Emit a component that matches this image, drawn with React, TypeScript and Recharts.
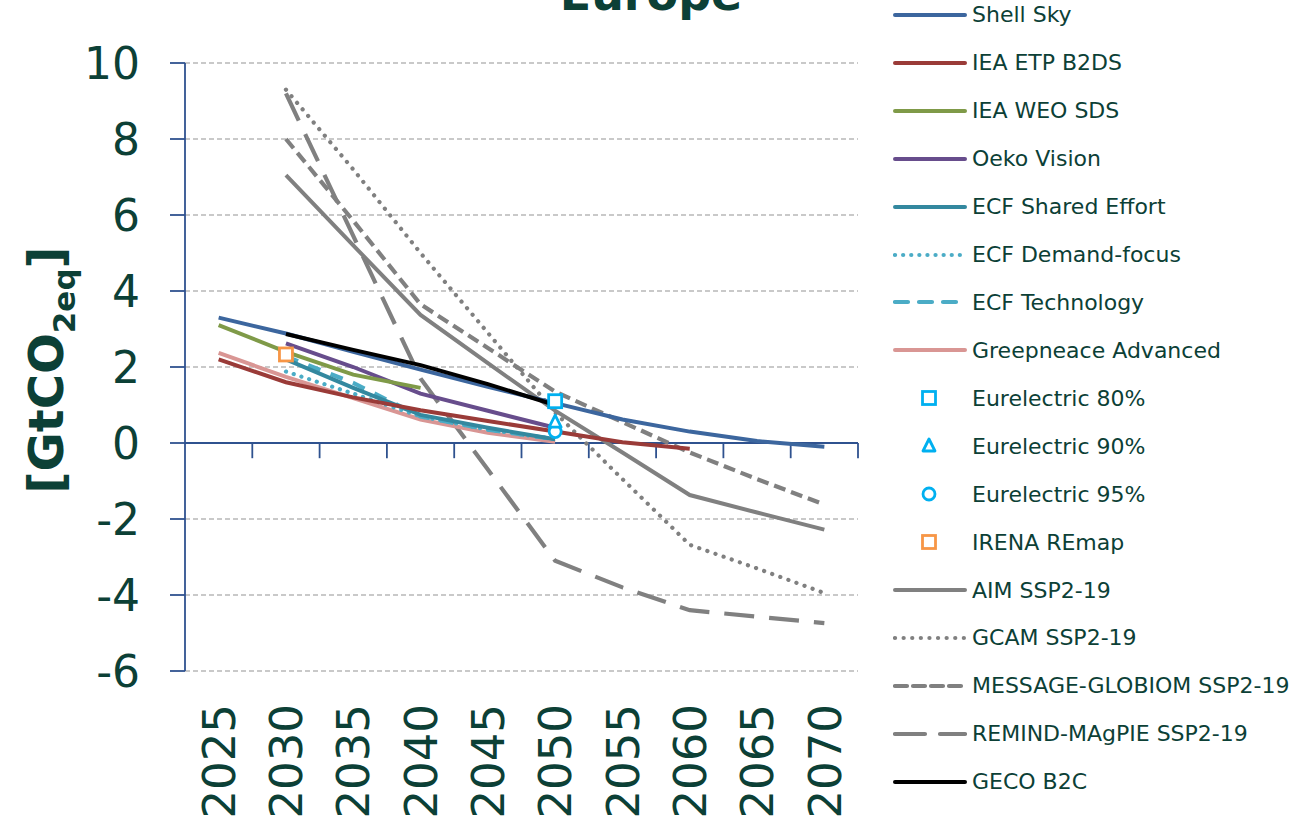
import React from 'react';
import { LineChart, Line, XAxis, YAxis, CartesianGrid, ReferenceLine } from 'recharts';

const years = [2025, 2030, 2035, 2040, 2045, 2050, 2055, 2060, 2065, 2070];
const yTicks = [-6, -4, -2, 0, 2, 4, 6, 8, 10];

// GtCO2eq per scenario, one value per year above (null = no data)
const shellSky = [3.3, 2.88, 2.4, 1.93, 1.48, 1.05, 0.62, 0.3, 0.05, -0.1];
const ieaEtp = [2.2, 1.6, 1.2, 0.86, 0.58, 0.3, 0.02, -0.15, null, null];
const ieaWeo = [3.1, 2.4, 1.8, 1.45, null, null, null, null, null, null];
const oeko = [null, 2.62, 2.0, 1.3, 0.85, 0.4, null, null, null, null];
const ecfShared = [null, 2.2, 1.45, 0.74, 0.4, 0.1, null, null, null, null];
const ecfDemand = [null, 1.88, 1.3, 0.7, 0.35, 0.1, null, null, null, null];
const ecfTech = [null, 2.28, 1.58, 0.7, 0.35, 0.1, null, null, null, null];
const greenpeace = [2.37, 1.74, 1.18, 0.62, 0.27, 0.03, null, null, null, null];
const eur80 = [null, null, null, null, null, 1.1, null, null, null, null];
const eur90 = [null, null, null, null, null, 0.55, null, null, null, null];
const eur95 = [null, null, null, null, null, 0.3, null, null, null, null];
const irena = [null, 2.33, null, null, null, null, null, null, null, null];
const aim = [null, 7.05, 5.2, 3.37, 2.1, 0.85, -0.25, -1.37, -1.83, -2.28];
const gcam = [null, 9.3, 7.2, 5.0, 2.9, 0.8, -0.95, -2.68, -3.3, -3.95];
const message = [null, 8.0, 5.85, 3.65, 2.5, 1.35, 0.55, -0.25, -0.95, -1.62];
const remind = [null, 9.2, 5.45, 1.7, -0.7, -3.1, -3.8, -4.4, -4.57, -4.74];
const geco = [null, 2.87, 2.45, 2.05, 1.55, 1.0, null, null, null, null];

const TEXT = '#0C4036';
const AXIS = '#2F528F';
const FONT = '"DejaVu Sans", Verdana, sans-serif';

type Item = {
    key: string;
    name: string;
    values: (number | null)[];
    color: string;
    width?: number;
    dash?: string;
    round?: boolean;
    marker?: 'square' | 'triangle' | 'circle';
};

const items: Item[] = [
    { key: 'shellSky', name: 'Shell Sky', values: shellSky, color: '#3C669E', width: 4 },
    { key: 'ieaEtp', name: 'IEA ETP B2DS', values: ieaEtp, color: '#9A3B38', width: 4 },
    { key: 'ieaWeo', name: 'IEA WEO SDS', values: ieaWeo, color: '#7F9A48', width: 4 },
    { key: 'oeko', name: 'Oeko Vision', values: oeko, color: '#674D8C', width: 4 },
    { key: 'ecfShared', name: 'ECF Shared Effort', values: ecfShared, color: '#33889F', width: 4 },
    { key: 'ecfDemand', name: 'ECF Demand-focus', values: ecfDemand, color: '#4BACC6', width: 4.2, dash: '0.1 8', round: true },
    { key: 'ecfTech', name: 'ECF Technology', values: ecfTech, color: '#4BACC6', width: 4.2, dash: '13 11' },
    { key: 'greenpeace', name: 'Greepneace Advanced', values: greenpeace, color: '#D99694', width: 4 },
    { key: 'eur80', name: 'Eurelectric 80%', values: eur80, color: '#00B0F0', marker: 'square' },
    { key: 'eur90', name: 'Eurelectric 90%', values: eur90, color: '#00B0F0', marker: 'triangle' },
    { key: 'eur95', name: 'Eurelectric 95%', values: eur95, color: '#00B0F0', marker: 'circle' },
    { key: 'irena', name: 'IRENA REmap', values: irena, color: '#F79646', marker: 'square' },
    { key: 'aim', name: 'AIM SSP2-19', values: aim, color: '#808080', width: 4 },
    { key: 'gcam', name: 'GCAM SSP2-19', values: gcam, color: '#808080', width: 4.2, dash: '0.1 8.5', round: true },
    { key: 'message', name: 'MESSAGE-GLOBIOM SSP2-19', values: message, color: '#808080', width: 4.2, dash: '12 6' },
    { key: 'remind', name: 'REMIND-MAgPIE SSP2-19', values: remind, color: '#808080', width: 4.2, dash: '30 15' },
    { key: 'geco', name: 'GECO B2C', values: geco, color: '#000000', width: 4 },
];

const data = years.map((year, i) => {
    const row: Record<string, number | null> = { year };
    items.forEach(it => { row[it.key] = it.values[i]; });
    return row;
});

// drawing order: grey scenarios below, coloured ones above, markers on top
const drawOrder = ['aim', 'gcam', 'message', 'remind', 'greenpeace', 'ecfDemand', 'ecfTech', 'ecfShared',
    'ieaEtp', 'oeko', 'ieaWeo', 'shellSky', 'geco', 'irena', 'eur95', 'eur90', 'eur80'];

const tickBounds = years.map(y => y + 2.5);

const drawMarker = (shape: string, color: string, cx: number, cy: number, k?: string) => {
    if (shape === 'square') return <rect key={k} x={cx - 6.5} y={cy - 6.5} width={13} height={13} fill="#fff" stroke={color} strokeWidth={2.8} />;
    if (shape === 'triangle') return <polygon key={k} points={`${cx},${cy - 7} ${cx + 6},${cy + 5} ${cx - 6},${cy + 5}`} fill="#fff" stroke={color} strokeWidth={2.8} strokeLinejoin="round" />;
    return <circle key={k} cx={cx} cy={cy} r={6} fill="#fff" stroke={color} strokeWidth={2.8} />;
};

const makeDot = (it: Item) => (props: any) => {
    const { cx, cy, value, index } = props;
    const k = `${it.key}-${index}`;
    if (value == null || cy == null || isNaN(cy)) return <g key={k} />;
    return drawMarker(it.marker as string, it.color, cx, cy, k);
};

const XTick = (props: any) => {
    const { x, y, payload } = props;
    return (
        <text x={x} y={y} dy="0.36em" transform={`rotate(-90, ${x}, ${y})`} textAnchor="end"
              fontSize={45} fontFamily={FONT} fill={TEXT}>
            {payload.value}
        </text>
    );
};

const YLabel = (props: any) => {
    const vb = props.viewBox || { x: 0, y: 63, width: 185, height: 608 };
    const cy = vb.y + vb.height / 2 + 3;
    return (
        <text transform={`translate(63, ${cy}) rotate(-90)`} x={0} y={0} textAnchor="middle"
              fontSize={48} fontWeight="bold" fontFamily={FONT} fill={TEXT}>
            [GtCO<tspan fontSize={31} dy={12}>2eq</tspan><tspan dy={-12}>]</tspan>
        </text>
    );
};

const LegendSample = ({ it }: { it: Item }) => (
    <svg width={74} height={20} style={{ display: 'block' }}>
        {it.marker
            ? drawMarker(it.marker, it.color, 36, 10)
            : <line x1={2} y1={10} x2={72} y2={10} stroke={it.color} strokeWidth={it.width}
                    strokeDasharray={it.dash} strokeLinecap="round" />}
    </svg>
);

export default function App() {
    return (
        <div style={{ position: 'absolute', left: 0, top: 0, width: 1304, height: 826, background: '#fff', overflow: 'hidden' }}>
            <LineChart width={1304} height={826} data={data} margin={{ top: 63, right: 446, bottom: 0, left: 0 }}>
                <CartesianGrid vertical={false} stroke="#B8B8B8" strokeDasharray="5 3" strokeWidth={1.4} />
                <XAxis dataKey="year" type="number" domain={[2022.5, 2072.5]} ticks={years} interval={0}
                       allowDataOverflow height={155} axisLine={false} tickLine={false} tickSize={0} tickMargin={33}
                       tick={<XTick />} />
                <YAxis domain={[-6, 10]} ticks={yTicks} interval={0} width={185} allowDataOverflow
                       axisLine={{ stroke: AXIS, strokeWidth: 1.8 }} tickLine={{ stroke: AXIS, strokeWidth: 1.8 }}
                       tickSize={15} tickMargin={30}
                       tick={{ fontSize: 44, fill: TEXT, fontFamily: FONT }}
                       label={<YLabel />} />
                <ReferenceLine y={0} stroke={AXIS} strokeWidth={1.8} />
                {tickBounds.map(b => (
                    <ReferenceLine key={b} segment={[{ x: b, y: 0 }, { x: b, y: -0.4 }]} stroke={AXIS}
                                   strokeWidth={1.8} ifOverflow="visible" />
                ))}
                {drawOrder.map(k => {
                    const it = items.find(i => i.key === k) as Item;
                    if (it.marker) {
                        return <Line key={k} dataKey={k} stroke="none" dot={makeDot(it)} activeDot={false}
                                     isAnimationActive={false} />;
                    }
                    return <Line key={k} dataKey={k} stroke={it.color} strokeWidth={it.width} strokeDasharray={it.dash}
                                 strokeLinecap={it.round ? 'round' : 'butt'} dot={false} activeDot={false}
                                 connectNulls type="linear" isAnimationActive={false} />;
                })}
            </LineChart>

            {/* title, cut off at the top as in the source */}
            <svg width={1304} height={60} style={{ position: 'absolute', left: 0, top: 0, pointerEvents: 'none' }}>
                <text x={651} y={10} textAnchor="middle" fontSize={46} fontWeight="bold" fontFamily={FONT} fill={TEXT}>Europe</text>
            </svg>

            {/* legend */}
            <div style={{ position: 'absolute', left: 893, top: -9, fontFamily: FONT, fontSize: 22, color: TEXT }}>
                {items.map(it => (
                    <div key={it.key} style={{ height: 47.93, display: 'flex', alignItems: 'center' }}>
                        <LegendSample it={it} />
                        <span style={{ marginLeft: 5, whiteSpace: 'nowrap' }}>{it.name}</span>
                    </div>
                ))}
            </div>
        </div>
    );
}
